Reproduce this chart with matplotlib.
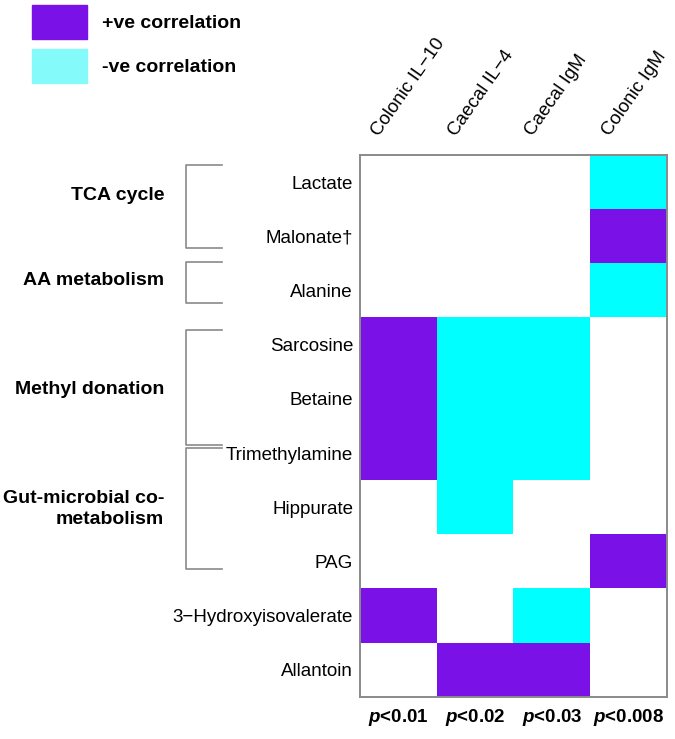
import matplotlib

matplotlib.use("Agg")
import matplotlib.pyplot as plt
import numpy as np
from matplotlib.colors import ListedColormap
from matplotlib.patches import Rectangle

metabolites = ["Lactate", "Malonate\u2020", "Alanine", "Sarcosine", "Betaine",
               "Trimethylamine", "Hippurate", "PAG", "3\u2212Hydroxyisovalerate",
               "Allantoin"]
markers = ["Colonic IL\u221210", "Caecal IL\u22124", "Caecal IgM", "Colonic IgM"]
pvals = ["0.01", "0.02", "0.03", "0.008"]

# +1 = positive correlation, -1 = negative, 0 = none
colonic_il10 = [0, 0, 0, 1, 1, 1, 0, 0, 1, 0]
caecal_il4 = [0, 0, 0, -1, -1, -1, -1, 0, 0, 1]
caecal_igm = [0, 0, 0, -1, -1, -1, 0, 0, -1, 1]
colonic_igm = [-1, 1, -1, 0, 0, 0, 0, 1, 0, 0]

# pathway groups: label, bracket top/bottom (row units), label row position
groups = [
    ("TCA cycle", -0.32, 1.22, 0.24),
    ("AA metabolism", 1.47, 2.23, 1.81),
    ("Methyl donation", 2.73, 4.85, 3.82),
    ("Gut-microbial co-\nmetabolism", 4.91, 7.14, 6.03),
]

PURPLE = "#7A12E8"
CYAN = "#00FFFF"
LEG_CYAN = "#85FAFA"

plt.rcParams.update({
    "font.family": "Liberation Sans",
    "mathtext.fontset": "custom",
    "mathtext.it": "Liberation Sans:italic:bold",
    "mathtext.rm": "Liberation Sans:bold",
})

fig = plt.figure(figsize=(6.75, 7.39), dpi=100)
W, H = 675, 739
ax = fig.add_axes([360 / W, 1 - 697 / H, 307 / W, 542 / H])

data = np.array([colonic_il10, caecal_il4, caecal_igm, colonic_igm]).T
cmap = ListedColormap([CYAN, "white", PURPLE])
ax.imshow(data, cmap=cmap, vmin=-1.5, vmax=1.5, aspect="auto",
          interpolation="nearest")

for s in ax.spines.values():
    s.set_color("#8a8a8a")
    s.set_linewidth(1.4)

ax.set_xticks([])
ax.set_yticks(np.arange(len(metabolites)))
ax.set_yticklabels(metabolites, fontsize=13.5)
ax.tick_params(axis="y", length=0, pad=5)

# rotated column labels
for i, m in enumerate(markers):
    ax.text(i - 0.30, -0.88, m, rotation=55, rotation_mode="anchor",
            ha="left", va="center", fontsize=13.5, clip_on=False)

# p-values under columns
for i, p in enumerate(pvals):
    ax.text(i, 9.87, r"$\mathit{p}$" + "<" + p, ha="center", va="center",
            fontsize=13.5, fontweight="bold", clip_on=False)

# pathway brackets and labels
xv, xh, xl = -2.77, -2.30, -3.05
for label, top, bot, ly in groups:
    ax.plot([xh, xv, xv, xh], [top, top, bot, bot], color="#8a8a8a",
            lw=1.2, clip_on=False)
    ax.text(xl, ly, label, ha="right", va="center", fontsize=14,
            fontweight="bold", clip_on=False, linespacing=1.3)

ax.set_xlim(-0.5, len(markers) - 0.5)
ax.set_ylim(len(metabolites) - 0.5, -0.5)

# legend
lax = fig.add_axes([0, 0, 1, 1])
lax.set_xlim(0, W)
lax.set_ylim(H, 0)
lax.axis("off")
lax.add_patch(Rectangle((32, 5), 55, 34, color=PURPLE))
lax.add_patch(Rectangle((32, 49), 55, 34, color=LEG_CYAN))
lax.text(102, 23, "+ve correlation", va="center", fontsize=14,
         fontweight="bold")
lax.text(102, 67, "-ve correlation", va="center", fontsize=14,
         fontweight="bold")

fig.savefig("out.png", dpi=100)
